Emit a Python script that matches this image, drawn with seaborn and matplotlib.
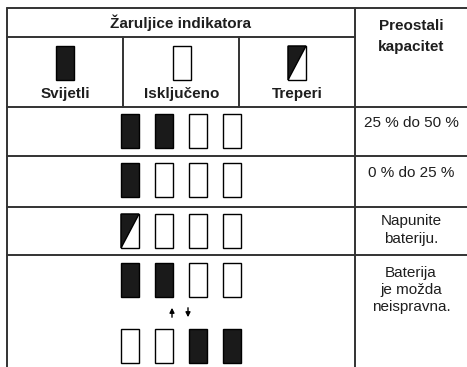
import matplotlib.pyplot as plt
import seaborn as sns
from matplotlib.patches import Rectangle, Polygon

# indicator states per row: 1 = on, 0 = off, 2 = blinking
legend_states = [1, 0, 2]
legend_labels = ["Svijetli", "Isključeno", "Treperi"]
row_states = [
    [1, 1, 0, 0],
    [1, 0, 0, 0],
    [2, 0, 0, 0],
    [1, 1, 0, 0],
]
extra_states = [0, 0, 1, 1]  # second pattern in the last row
capacity_labels = ["25 % do 50 %", "0 % do 25 %", "Napunite\nbateriju.",
                   "Baterija\nje možda\nneispravna."]
header_left = "Žaruljice indikatora"
header_right = "Preostali\nkapacitet"

sns.set_theme(style="white")
plt.rcParams["font.family"] = ["Liberation Sans", "DejaVu Sans"]

fig = plt.figure(figsize=(4.67, 3.67), dpi=100)
ax = fig.add_axes([0, 0, 1, 1])
ax.set_xlim(0, 467)
ax.set_ylim(367, 0)
ax.axis("off")

LINE = "#333333"
FILL = "#1a1a1a"
TXT = "#1e1e1e"
W, H = 18, 34
FS = 11


def lamp(x, y, state):
    face = FILL if state == 1 else "white"
    ax.add_patch(Rectangle((x, y), W, H, facecolor=face, edgecolor="black", lw=1.0))
    if state == 2:
        ax.add_patch(Polygon([(x, y), (x + W, y), (x, y + H)], closed=True,
                             facecolor=FILL, edgecolor="black", lw=1.0))


def lines(x, y0, text, pitch, **kw):
    parts = text.split("\n")
    start = y0 - pitch * (len(parts) - 1) / 2
    for i, p in enumerate(parts):
        ax.text(x, start + i * pitch, p, ha="center", va="center", color=TXT, **kw)


# table grid
lw = 1.4
ax.plot([7, 7], [8, 367], color=LINE, lw=lw)
ax.plot([355, 355], [8, 367], color=LINE, lw=lw)
ax.plot([7, 467], [8, 8], color=LINE, lw=lw)
ax.plot([7, 355], [37, 37], color=LINE, lw=lw)
for xv in [123, 239]:
    ax.plot([xv, xv], [37, 107], color=LINE, lw=lw)
for yv in [107, 156, 207, 255]:
    ax.plot([7, 467], [yv, yv], color=LINE, lw=lw)

# headers
lines(181, 23, header_left, 0, fontsize=FS, fontweight="bold")
lines(411, 37, header_right, 21, fontsize=FS, fontweight="bold")

legend_x = [56, 173, 288]
for x, s, lab in zip(legend_x, legend_states, legend_labels):
    lamp(x, 46, s)
    lines(x + W / 2, 94, lab, 0, fontsize=FS, fontweight="bold")

# rows
lamp_x = [121, 155, 189, 223]
row_top = [114, 163, 214, 263]
for top, states in zip(row_top, row_states):
    for x, s in zip(lamp_x, states):
        lamp(x, top, s)
for x, s in zip(lamp_x, extra_states):
    lamp(x, 329, s)

ax.annotate("", xy=(172, 305), xytext=(172, 320),
            arrowprops=dict(arrowstyle="-|>", color="black", lw=1.0, mutation_scale=7))
ax.annotate("", xy=(188, 320), xytext=(188, 305),
            arrowprops=dict(arrowstyle="-|>", color="black", lw=1.0, mutation_scale=7))

text_y = [123, 173, 230, 290]
for y, lab in zip(text_y, capacity_labels):
    lines(411, y, lab, 17, fontsize=FS)

fig.savefig("out.png", dpi=100)
